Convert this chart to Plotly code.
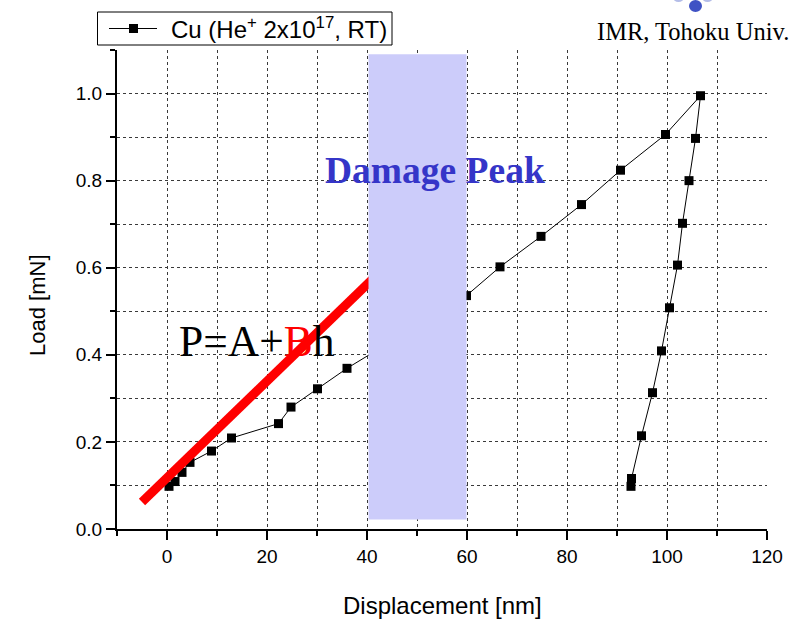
import plotly.graph_objects as go

# Nanoindentation load-displacement curve for He-implanted Cu (loading + unloading)
h_nm = [0.4, 1.6, 3.0, 4.6, 8.9, 12.9, 22.3, 24.8, 30.1, 36.0, 59.9, 66.6, 74.8,
        82.9, 90.7, 99.7, 106.7, 105.7, 104.4, 103.1, 102.1, 100.5, 98.9, 97.1,
        94.9, 92.9, 92.8]
load_mN = [0.098, 0.109, 0.130, 0.153, 0.179, 0.209, 0.242, 0.280, 0.322, 0.369,
           0.536, 0.602, 0.672, 0.745, 0.824, 0.906, 0.995, 0.897, 0.800, 0.702,
           0.606, 0.508, 0.409, 0.313, 0.214, 0.116, 0.098]

# Linear fit P = A + B*h over the shallow region
fit_h = [-5.0, 42.0]
fit_p = [0.062, 0.584]

# Damage peak band (depth range and vertical extent)
peak_h = [40.3, 59.9]
peak_p = [0.022, 1.090]

x_range = [-10, 120]
y_range = [0, 1.1]

W, H = 796, 621
ML, MR, MT, MB = 117, 29, 50, 92


def px_x(p):
    return (p - ML) / (W - ML - MR)


def px_y(p):
    return (H - MB - p) / (H - MT - MB)


SANS = "Liberation Sans, Arial, sans-serif"
SERIF = "Liberation Serif, Times New Roman, serif"
GRID = "#3a3a3a"

fig = go.Figure()

fig.add_trace(go.Scatter(
    x=h_nm, y=load_mN, mode="lines+markers",
    line=dict(color="black", width=1),
    marker=dict(symbol="square", size=9, color="black"),
    name="Cu (He+ 2x10^17, RT)", showlegend=False,
))

fig.add_trace(go.Scatter(
    x=fit_h, y=fit_p, mode="lines",
    line=dict(color="#ff0000", width=9),
    showlegend=False, hoverinfo="skip",
))

shapes = [
    # damage peak band, drawn over the curve
    dict(type="rect", xref="x", yref="y", x0=peak_h[0], x1=peak_h[1],
         y0=peak_p[0], y1=peak_p[1], fillcolor="rgb(204,204,250)",
         line=dict(width=0), layer="above"),
    # legend box
    dict(type="rect", xref="paper", yref="paper",
         x0=px_x(97.5), x1=px_x(392), y0=px_y(45), y1=px_y(12),
         fillcolor="white", line=dict(color="black", width=1), layer="above"),
    dict(type="line", xref="paper", yref="paper",
         x0=px_x(109), x1=px_x(157), y0=px_y(28.5), y1=px_y(28.5),
         line=dict(color="black", width=1), layer="above"),
    dict(type="rect", xref="paper", yref="paper",
         x0=px_x(129), x1=px_x(138), y0=px_y(33), y1=px_y(24),
         fillcolor="black", line=dict(width=0), layer="above"),
    # institute logo dots
    dict(type="circle", xref="paper", yref="paper",
         x0=px_x(673), x1=px_x(684), y0=px_y(2), y1=px_y(-7),
         fillcolor="#b4bde8", line=dict(width=0), layer="above"),
    dict(type="circle", xref="paper", yref="paper",
         x0=px_x(702), x1=px_x(713), y0=px_y(2), y1=px_y(-7),
         fillcolor="#b4bde8", line=dict(width=0), layer="above"),
    dict(type="circle", xref="paper", yref="paper",
         x0=px_x(689), x1=px_x(702), y0=px_y(12), y1=px_y(0),
         fillcolor="#3f52c4", line=dict(width=0), layer="above"),
]

annotations = [
    dict(xref="paper", yref="paper", x=px_x(169), y=px_y(28.5),
         xanchor="left", yanchor="middle", showarrow=False,
         text="Cu (He<sup>+</sup> 2x10<sup>17</sup>, RT)",
         font=dict(family=SANS, size=24, color="black")),
    dict(xref="paper", yref="paper", x=px_x(692.5), y=px_y(31),
         xanchor="center", yanchor="middle", showarrow=False,
         text="IMR, Tohoku Univ.",
         font=dict(family=SERIF, size=24.5, color="black")),
    dict(xref="x", yref="y", x=53.5, y=0.823,
         xanchor="center", yanchor="middle", showarrow=False,
         text="<b>Damage Peak</b>",
         font=dict(family=SERIF, size=37.5, color="#3535c8")),
    dict(xref="x", yref="y", x=17.9, y=0.432,
         xanchor="center", yanchor="middle", showarrow=False,
         text="P=A+<span style='color:#ff0000'>B</span>h",
         font=dict(family=SERIF, size=43.5, color="black")),
    # axis titles
    dict(xref="paper", yref="paper", x=px_x(442), y=px_y(605),
         xanchor="center", yanchor="middle", showarrow=False,
         text="Displacement [nm]",
         font=dict(family=SANS, size=24, color="black")),
    dict(xref="paper", yref="paper", x=px_x(37), y=px_y(305),
         xanchor="center", yanchor="middle", showarrow=False,
         text="Load [mN]", textangle=-90,
         font=dict(family=SANS, size=22, color="black")),
]

axis_common = dict(
    showline=True, linecolor="black", linewidth=2,
    ticks="outside", ticklen=9, tickwidth=2, tickcolor="black",
    showgrid=True, gridcolor=GRID, gridwidth=1, griddash="dot",
    zeroline=False, tickfont=dict(family=SANS, size=19, color="black"),
)

fig.update_xaxes(
    range=x_range, tick0=0, dtick=20,
    minor=dict(dtick=10, ticks="outside", ticklen=5, tickwidth=2,
               tickcolor="black", showgrid=True, gridcolor=GRID,
               gridwidth=1, griddash="dot"),
    **axis_common,
)
fig.update_yaxes(
    range=y_range, tick0=0, dtick=0.2, tickformat=".1f",
    minor=dict(dtick=0.1, ticks="outside", ticklen=5, tickwidth=2,
               tickcolor="black", showgrid=True, gridcolor=GRID,
               gridwidth=1, griddash="dot"),
    **axis_common,
)

fig.update_layout(
    width=W, height=H, autosize=False,
    margin=dict(l=ML, r=MR, t=MT, b=MB, pad=0),
    plot_bgcolor="white", paper_bgcolor="white",
    shapes=shapes, annotations=annotations,
    showlegend=False,
)

fig.write_html("out.html")
